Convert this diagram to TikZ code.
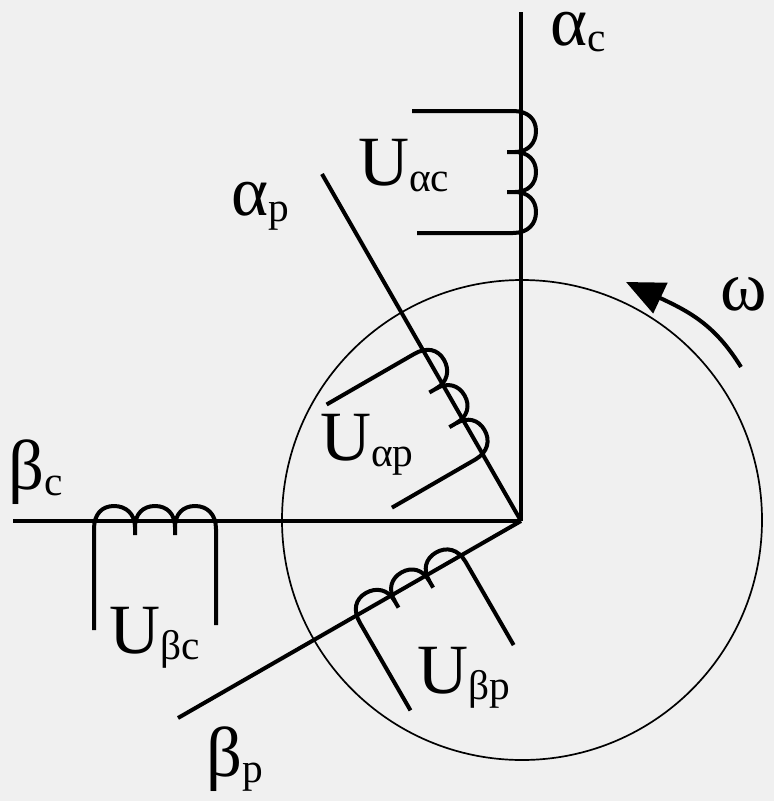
\documentclass[tikz,border=0pt]{standalone}
\usepackage{fontspec}
\setmainfont{Liberation Serif}
\usetikzlibrary{arrows.meta}
\newlength{\du}
\setlength{\du}{0.75pt}
\newcommand{\biglab}[2]{\fontsize{53}{53}\selectfont #1\fontsize{31}{31}\selectfont\raisebox{-5.2pt}{#2}}
\tikzset{
  thickline/.style={line width=4\du,line cap=butt,line join=round},
  label/.style={inner sep=0pt,anchor=base west},
  coil/.pic={
    \draw[thickline] (0,109)--(0,8) .. controls (0,-7) and (8,-15) .. (20,-15)
      .. controls (32,-15) and (41,-7) .. (41,6)--(41,14);
    \draw[thickline] (41,6) .. controls (41,-7) and (49,-15) .. (61,-15)
      .. controls (73,-15) and (81,-7) .. (81,6)--(81,14);
    \draw[thickline] (81,6) .. controls (81,-7) and (89,-15) .. (101,-15)
      .. controls (113,-15) and (122,-7) .. (122,8)--(122,104);
  }
}
\begin{document}
\begin{tikzpicture}[x=1\du,y=-1\du]
\fill[fill=black!6] (0,0) rectangle (774,801);
\useasboundingbox (0,0) rectangle (774,801);
% axes
\coordinate (center) at (521,521);
\coordinate (alphac) at (521,12);
\coordinate (betac) at (13,521);
\coordinate (alphap) at (322,174);
\coordinate (betap) at (178,718);
\draw[line width=1.7\du] (522,520) circle (240);
\draw[thickline] (alphac)--(center);
\draw[thickline] (betac)--(center);
\draw[thickline] (alphap)--(center);
\draw[thickline] (betap)--(center);
% coils
\pic[rotate=-90] at (521,111) {coil};
\pic[rotate=-60] at (421,350) {coil};
\pic at (94,521) {coil};
\pic[rotate=30] at (356,616) {coil};
% rotation arrow
\coordinate (omegastart) at (741,367);
\coordinate (omegatip) at (626,282);
\draw[thickline,-{Triangle[length=28.5pt,width=24.75pt]}] (omegastart) .. controls (715,325) and (690,312) .. (omegatip);
% labels
\node[label] (ualphac) at (358,185) {\biglab{U}{αc}};
\node[label] (ualphap) at (320,460) {\biglab{U}{αp}};
\node[label] (ubetac) at (109,653) {\biglab{U}{βc}};
\node[label] (ubetap) at (417,693) {\biglab{U}{βp}};
\node[label] (lalphac) at (550,45) {\biglab{α}{c}};
\node[label] (lalphap) at (231,215) {\biglab{α}{p}};
\node[label] (lbetac) at (8,489) {\biglab{β}{c}};
\node[label] (lbetap) at (206,776) {\biglab{β}{p}};
\node[label] (lomega) at (720,310) {\fontsize{53}{53}\selectfont ω};
\end{tikzpicture}
\end{document}
